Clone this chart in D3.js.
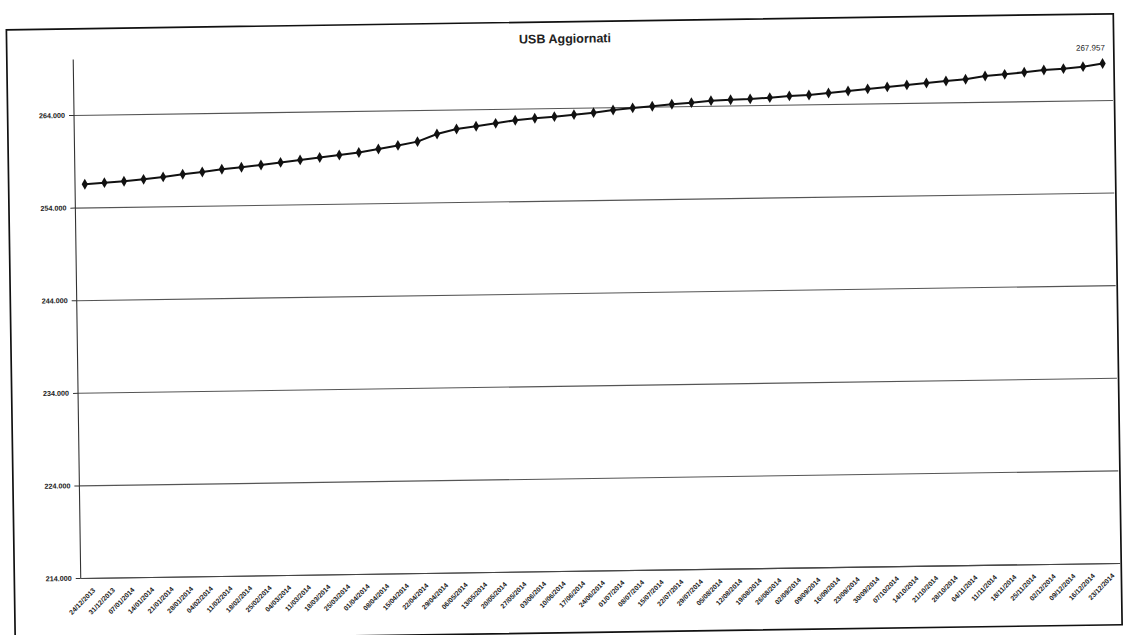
<!DOCTYPE html>
<html>
<head>
<meta charset="utf-8">
<script src="https://cdn.jsdelivr.net/npm/d3@7"></script>
<style>
  html, body { margin: 0; padding: 0; background: #fff; }
  svg { display: block; }
</style>
</head>
<body>
<svg id="chart" width="1124" height="635"></svg>
<script>
// Weekly snapshot dates (category axis)
const categories = [
  "24/12/2013", "31/12/2013", "07/01/2014", "14/01/2014", "21/01/2014", "28/01/2014",
  "04/02/2014", "11/02/2014", "18/02/2014", "25/02/2014", "04/03/2014", "11/03/2014",
  "18/03/2014", "25/03/2014", "01/04/2014", "08/04/2014", "15/04/2014", "22/04/2014",
  "29/04/2014", "06/05/2014", "13/05/2014", "20/05/2014", "27/05/2014", "03/06/2014",
  "10/06/2014", "17/06/2014", "24/06/2014", "01/07/2014", "08/07/2014", "15/07/2014",
  "22/07/2014", "29/07/2014", "05/08/2014", "12/08/2014", "19/08/2014", "26/08/2014",
  "02/09/2014", "09/09/2014", "16/09/2014", "23/09/2014", "30/09/2014", "07/10/2014",
  "14/10/2014", "21/10/2014", "28/10/2014", "04/11/2014", "11/11/2014", "18/11/2014",
  "25/11/2014", "02/12/2014", "09/12/2014", "16/12/2014", "23/12/2014"
];

// Updated USB count per week
const usbValues = [
  256505, 256646, 256765, 256948, 257175, 257434, 257650, 257909, 258093, 258309,
  258557, 258795, 259032, 259270, 259508, 259853, 260210, 260587, 261387, 261894,
  262153, 262445, 262747, 262931, 263071, 263255, 263438, 263698, 263892, 264043,
  264227, 264367, 264551, 264626, 264680, 264788, 264940, 265015, 265199, 265382,
  265577, 265760, 265944, 266127, 266311, 266462, 266786, 266937, 267132, 267348,
  267456, 267639, 267957
];

const yTicks = [214000, 224000, 234000, 244000, 254000, 264000];
const yDomain = [214000, 270000];
const chartTitle = "USB Aggiornati";

const it = d3.formatLocale({ decimal: ",", thousands: ".", grouping: [3], currency: ["€", ""] });
const fmt = it.format(",.0f");

const plot = { left: 77, right: 1116, top: 52.4, bottom: 571 };

const svg = d3.select("#chart");
// the printed sheet sits slightly askew
const root = svg.append("g").attr("transform", "rotate(-0.83 562 317)");

// chart frame
root.append("rect")
  .attr("x", 10.6).attr("y", 21.8)
  .attr("width", 1107).attr("height", 611)
  .attr("fill", "none").attr("stroke", "#111").attr("stroke-width", 1.7);

const x = d3.scaleBand().domain(categories).range([plot.left, plot.right]);
const y = d3.scaleLinear().domain(yDomain).range([plot.bottom, plot.top]);
const cx = d => x(d) + x.bandwidth() / 2;

// horizontal gridlines
root.append("g")
  .attr("transform", `translate(${plot.left},0)`)
  .call(d3.axisLeft(y).tickValues(yTicks).tickSize(-(plot.right - plot.left)).tickFormat(""))
  .call(g => g.select(".domain").remove())
  .call(g => g.selectAll(".tick line").attr("stroke", "#555").attr("stroke-width", 1.1));

// value axis
root.append("g")
  .attr("transform", `translate(${plot.left},0)`)
  .call(d3.axisLeft(y).tickValues(yTicks).tickSize(5).tickPadding(4).tickFormat(fmt))
  .call(g => g.select(".domain").attr("stroke", "#333").attr("stroke-width", 1.1)
    .attr("d", `M0,${plot.bottom}V${y(yTicks[yTicks.length - 1]) - 0}V${plot.top}`))
  .call(g => g.selectAll(".tick line").attr("stroke", "#333"))
  .call(g => g.selectAll(".tick text")
    .attr("font-family", "Liberation Sans, Arial, sans-serif")
    .attr("font-size", 7.2).attr("font-weight", "bold").attr("fill", "#222"));

// category axis
root.append("g")
  .attr("transform", `translate(0,${plot.bottom})`)
  .call(d3.axisBottom(x).tickSize(0).tickPadding(0))
  .call(g => g.select(".domain").attr("stroke", "#444").attr("stroke-width", 1.1))
  .call(g => g.selectAll(".tick text")
    .attr("font-family", "Liberation Sans, Arial, sans-serif")
    .attr("font-size", 6.8).attr("font-weight", "bold").attr("fill", "#222")
    .attr("text-anchor", "end")
    .attr("dy", 0)
    .attr("transform", "translate(5,13) rotate(-45)"));

// series line
const line = d3.line().x((d, i) => cx(categories[i])).y(d => y(d));
root.append("path")
  .datum(usbValues)
  .attr("d", line)
  .attr("fill", "none")
  .attr("stroke", "#111")
  .attr("stroke-width", 2);

// markers
root.append("g")
  .selectAll("path")
  .data(usbValues)
  .join("path")
  .attr("transform", (d, i) => `translate(${cx(categories[i])},${y(d)})`)
  .attr("d", d3.symbol(d3.symbolDiamond, 34))
  .attr("fill", "#111");

// label on the last point
const lastI = usbValues.length - 1;
root.append("text")
  .attr("x", cx(categories[lastI]) - 12)
  .attr("y", y(usbValues[lastI]) - 13)
  .attr("text-anchor", "middle")
  .attr("font-family", "Liberation Sans, Arial, sans-serif")
  .attr("font-size", 8)
  .attr("fill", "#222")
  .text(fmt(usbValues[lastI]));

// title
root.append("text")
  .attr("x", 569).attr("y", 43)
  .attr("text-anchor", "middle")
  .attr("font-family", "Liberation Sans, Arial, sans-serif")
  .attr("font-size", 12.5).attr("font-weight", "bold")
  .attr("fill", "#222")
  .text(chartTitle);
</script>
</body>
</html>
